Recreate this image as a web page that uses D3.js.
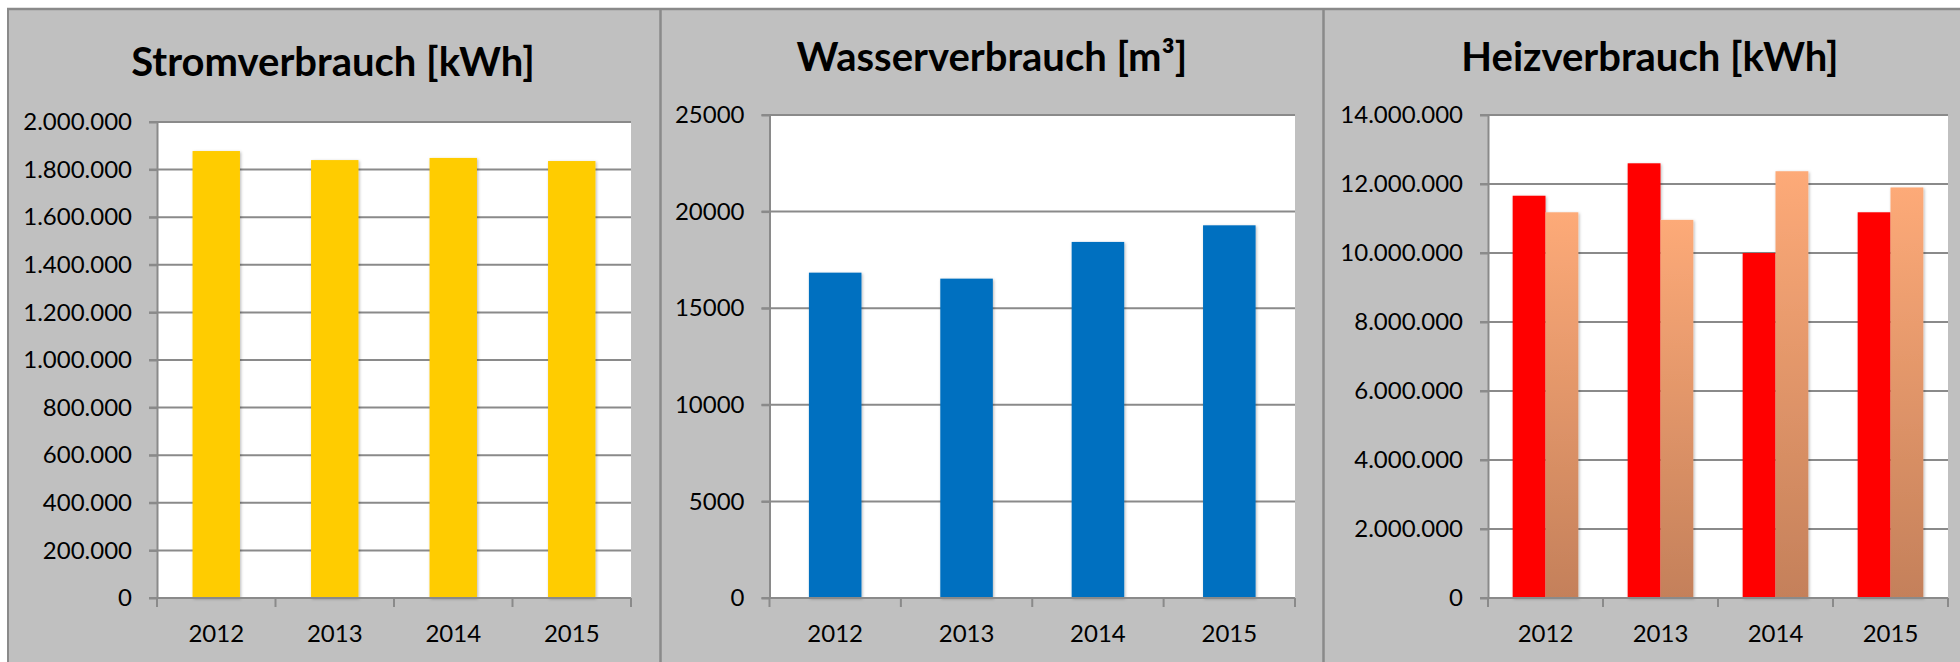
<!DOCTYPE html>
<html>
<head>
<meta charset="utf-8">
<script src="https://cdn.jsdelivr.net/npm/d3@7"></script>
<style>
  html, body { margin: 0; padding: 0; background: #ffffff; }
  svg { display: block; }
  text { font-family: Lato, "Open Sans", "Liberation Sans", sans-serif; fill: #000; }
</style>
</head>
<body>
<svg id="chart" width="1960" height="662"></svg>
<script>
// Jahre (Kategorien)
const years = ["2012", "2013", "2014", "2015"];

// Stromverbrauch [kWh]
const stromValues = [1878000, 1840000, 1849000, 1836000];
const stromTicks = [0, 200000, 400000, 600000, 800000, 1000000, 1200000, 1400000, 1600000, 1800000, 2000000];

// Wasserverbrauch [m³]
const wasserValues = [16840, 16530, 18430, 19290];
const wasserTicks = [0, 5000, 10000, 15000, 20000, 25000];

// Heizverbrauch [kWh], zwei Reihen
const heizSeriesA = [11660000, 12600000, 10000000, 11180000];
const heizSeriesB = [11180000, 10960000, 12370000, 11900000];
const heizTicks = [0, 2000000, 4000000, 6000000, 8000000, 10000000, 12000000, 14000000];

const W = 1960, H = 662;
const svg = d3.select("#chart");
const de = d3.formatLocale({ decimal: ",", thousands: ".", grouping: [3], currency: ["", " €"] });
const fmtDot = de.format(",d");
const fmtPlain = d3.format("d");

const GRID = "#8a8a8a";
const BG = "#c0c0c0";
const TICK_FONT = 24;
const TITLE_FONT = 40;

// Defs: Schatten der Säulen und Verlauf der zweiten Heizreihe
const defs = svg.append("defs");
const shadow = defs.append("filter").attr("id", "barShadow")
  .attr("x", "-20%").attr("y", "-5%").attr("width", "140%").attr("height", "110%");
shadow.append("feDropShadow").attr("dx", 1).attr("dy", 1)
  .attr("stdDeviation", 1.6).attr("flood-color", "#000").attr("flood-opacity", 0.28);

const grad = defs.append("linearGradient").attr("id", "heizGrad")
  .attr("x1", 0).attr("y1", 0).attr("x2", 0).attr("y2", 1);
grad.append("stop").attr("offset", "0%").attr("stop-color", "#fdaa78");
grad.append("stop").attr("offset", "100%").attr("stop-color", "#c4805a");

// Hintergrund
svg.append("rect").attr("x", 0).attr("y", 0).attr("width", W).attr("height", H).attr("fill", "#ffffff");
svg.append("rect").attr("x", 8).attr("y", 9).attr("width", W - 8).attr("height", H - 9).attr("fill", BG);

// Rahmenlinien der drei Diagramme
svg.append("line").attr("x1", 7).attr("x2", W).attr("y1", 9).attr("y2", 9)
  .attr("stroke", GRID).attr("stroke-width", 2.5);
[8, 660.5, 1323.5].forEach(x => {
  svg.append("line").attr("x1", x).attr("x2", x).attr("y1", 8).attr("y2", H)
    .attr("stroke", GRID).attr("stroke-width", x === 8 ? 2 : 2.5);
});

function drawPanel(cfg) {
  const g = svg.append("g");
  const { left, right, top, bottom } = cfg.plot;

  const y = d3.scaleLinear().domain([0, cfg.max]).range([bottom, top]);
  const x = d3.scaleBand().domain(years).range([left, right]).paddingInner(0).paddingOuter(0);

  // Titel
  g.append("text")
    .attr("x", cfg.titleX).attr("y", cfg.titleY)
    .attr("text-anchor", "middle")
    .attr("font-weight", 700)
    .attr("font-size", TITLE_FONT)
    .text(cfg.title);

  // Zeichenfläche
  g.append("rect").attr("x", left).attr("y", top)
    .attr("width", right - left).attr("height", bottom - top).attr("fill", "#ffffff");

  // Gitternetzlinien
  g.append("g").selectAll("line").data(cfg.ticks.filter(t => t > 0)).join("line")
    .attr("x1", left - 8).attr("x2", right)
    .attr("y1", d => y(d)).attr("y2", d => y(d))
    .attr("stroke", GRID).attr("stroke-width", 2);

  // Säulen
  const barsG = g.append("g").attr("filter", "url(#barShadow)");
  const groupW = x.bandwidth() * cfg.groupFrac;
  const n = cfg.series.length;
  const inner = d3.scaleBand().domain(d3.range(n)).range([0, groupW]).padding(0);
  cfg.series.forEach((s, si) => {
    barsG.append("g").selectAll("rect").data(years).join("rect")
      .attr("x", (d) => x(d) + (x.bandwidth() - groupW) / 2 + inner(si))
      .attr("width", inner.bandwidth())
      .attr("y", (d, i) => y(s.values[i]))
      .attr("height", (d, i) => y(0) - y(s.values[i]))
      .attr("fill", s.fill);
  });

  // y-Achse
  const yAxis = d3.axisLeft(y).tickValues(cfg.ticks).tickFormat(cfg.format)
    .tickSizeInner(8).tickSizeOuter(0).tickPadding(17);
  const ya = g.append("g").attr("transform", `translate(${left},0)`).call(yAxis);
  ya.select(".domain").attr("stroke", GRID).attr("stroke-width", 2);
  ya.selectAll(".tick line").attr("stroke", GRID).attr("stroke-width", 2);
  ya.selectAll(".tick text").attr("font-size", TICK_FONT).attr("font-family", null).attr("fill", "#000");

  // x-Achse (Teilstriche an den Kategoriegrenzen)
  g.append("line").attr("x1", left - 8).attr("x2", right).attr("y1", bottom).attr("y2", bottom)
    .attr("stroke", GRID).attr("stroke-width", 2);
  const bounds = years.map(d => x(d)).concat([right]);
  g.append("g").selectAll("line").data(bounds).join("line")
    .attr("x1", d => d).attr("x2", d => d)
    .attr("y1", bottom).attr("y2", bottom + 9)
    .attr("stroke", GRID).attr("stroke-width", 2);
  g.append("g").selectAll("text").data(years).join("text")
    .attr("x", d => x(d) + x.bandwidth() / 2)
    .attr("y", bottom + 44)
    .attr("text-anchor", "middle")
    .attr("font-size", TICK_FONT)
    .text(d => d);
}

drawPanel({
  title: "Stromverbrauch [kWh]", titleX: 333, titleY: 76,
  plot: { left: 157, right: 631, top: 122, bottom: 598 },
  max: 2000000, ticks: stromTicks, format: fmtDot, groupFrac: 0.4,
  series: [{ values: stromValues, fill: "#ffcc00" }]
});

drawPanel({
  title: "Wasserverbrauch [m³]", titleX: 992, titleY: 71,
  plot: { left: 769.5, right: 1295, top: 115, bottom: 598 },
  max: 25000, ticks: wasserTicks, format: fmtPlain, groupFrac: 0.4,
  series: [{ values: wasserValues, fill: "#0070c0" }]
});

drawPanel({
  title: "Heizverbrauch [kWh]", titleX: 1650, titleY: 71,
  plot: { left: 1488, right: 1948, top: 115, bottom: 598 },
  max: 14000000, ticks: heizTicks, format: fmtDot, groupFrac: 0.571,
  series: [
    { values: heizSeriesA, fill: "#ff0000" },
    { values: heizSeriesB, fill: "url(#heizGrad)" }
  ]
});
</script>
</body>
</html>
